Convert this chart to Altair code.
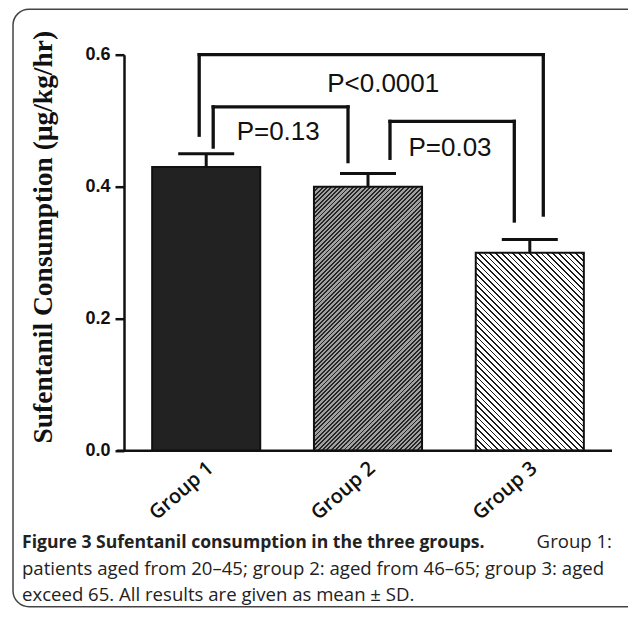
import altair as alt
import pandas as pd

# ---------------- data ----------------
groups = ["Group 1", "Group 2", "Group 3"]
means = [0.43, 0.40, 0.30]
sds = [0.02, 0.02, 0.02]

y_ticks = [0.0, 0.2, 0.4, 0.6]
y_title = "Sufentanil Consumption (μg/kg/hr)"

p_labels = ["P<0.0001", "P=0.13", "P=0.03"]
p_from = ["Group 1", "Group 1", "Group 2"]
p_to = ["Group 3", "Group 2", "Group 3"]
p_top = [0.600, 0.521, 0.499]
p_left_end = [0.478, 0.460, 0.443]
p_right_end = [0.357, 0.438, 0.348]
p_text_y = [0.544, 0.470, 0.447]

caption_bold = "Figure 3 Sufentanil consumption in the three groups."
caption_rest = "Group 1:"
caption_line2 = "patients aged from 20–45; group 2: aged from 46–65; group 3: aged"
caption_line3 = "exceed 65. All results are given as mean ± SD."

# ---------------- layout / style ----------------
W, H = 488, 396
YMAX = 0.6
PAD_IN, PAD_OUT = 0.332, 0.174
STEP = W / (len(groups) - PAD_IN + 2 * PAD_OUT)
BW = STEP * (1 - PAD_IN)
PX = H / YMAX
INK = "#111111"

left_dx = [-7, 7, 22]
right_dx = [13.5, -20, -15.5]
text_dx = [177, 72, 82]


def stripes(w, h, period, frac, dark, light, up):
    k = (w + h) / (w * w + h * h)
    if up:
        x1, y1, x2, y2 = 0, 0, w * k, h * k
    else:
        x1, y1, x2, y2 = 0, 1, w * k, 1 - h * k
    dt = period / (w + h)
    stops = []
    t = 0.0
    while t < 1.0:
        a = t
        b = min(t + frac * dt, 1.0)
        c = min(t + dt, 1.0)
        stops += [{"offset": a, "color": dark}, {"offset": b, "color": dark},
                  {"offset": b, "color": light}, {"offset": c, "color": light}]
        t += dt
    return {"gradient": "linear", "x1": x1, "y1": y1, "x2": x2, "y2": y2, "stops": stops}


bars_df = pd.DataFrame({"group": groups, "mean": means, "sd": sds})
bars_df["upper"] = bars_df["mean"] + bars_df["sd"]

br_df = pd.DataFrame({"label": p_labels, "from": p_from, "to": p_to, "top": p_top,
                      "left_end": p_left_end, "right_end": p_right_end, "text_y": p_text_y})

x_scale = alt.Scale(domain=groups, paddingInner=PAD_IN, paddingOuter=PAD_OUT)
y_scale = alt.Scale(domain=[0, YMAX], nice=False)

x_axis = alt.Axis(title=None, labelAngle=-41, labelFont="Open Sans", labelFontWeight=600,
                  labelFontSize=20, labelColor=INK, ticks=False, domain=False,
                  labelPadding=7, labelOffset=-2)
y_axis = alt.Axis(values=y_ticks, format=".1f", tickSize=9, tickWidth=2.5, domainWidth=2.5,
                  domainColor=INK, tickColor=INK, labelFont="Liberation Sans",
                  labelFontWeight="bold", labelFontSize=18, labelColor=INK, labelPadding=5,
                  grid=False, title=y_title, titleFont="Liberation Serif", titleFontWeight="bold",
                  titleFontSize=27.5, titleColor=INK, titleAngle=270, titleX=-73, titleY=182,
                  titleAlign="center", titleBaseline="alphabetic")

X = alt.X("group:N", scale=x_scale, axis=x_axis, sort=groups)
Y = alt.Y("mean:Q", scale=y_scale, axis=y_axis)

base = alt.Chart(bars_df)

one = pd.DataFrame({"k": [0]})

frame = alt.Chart(one).mark_rect(fill="transparent", stroke="#444444", strokeWidth=1.5,
                                 cornerRadius=16).encode(
    x=alt.value(-111), x2=alt.value(530), y=alt.value(-45.5), y2=alt.value(552))

fills = {
    "Group 1": "#222222",
    "Group 2": stripes(BW, means[1] * PX, 4.3, 0.45, "#262626", "#a0a0a0", True),
    "Group 3": stripes(BW, means[2] * PX, 5.7, 0.30, "#1a1a1a", "#ffffff", False),
}
bar_layers = [
    base.transform_filter(alt.datum.group == g).mark_bar(
        fill=fills[g], stroke=INK, strokeWidth=2).encode(x=X, y=Y)
    for g in groups
]

err_rule = base.mark_rule(color=INK, strokeWidth=3).encode(
    x=X, y=alt.Y("mean:Q", scale=y_scale), y2="upper:Q")
err_cap = base.mark_tick(color=INK, thickness=3, size=56, opacity=1).encode(
    x=X, y=alt.Y("upper:Q", scale=y_scale))

br_layers = []
for i, lab in enumerate(p_labels):
    b = alt.Chart(br_df).transform_filter(alt.datum.label == lab)
    xf = alt.X("from:N", scale=x_scale, sort=groups)
    xt = alt.X("to:N", scale=x_scale, sort=groups)
    ytop = alt.Y("top:Q", scale=y_scale)
    br_layers.append(b.mark_rule(color=INK, strokeWidth=3.3, strokeCap="square",
                                 xOffset=left_dx[i], x2Offset=right_dx[i]).encode(
        x=xf, x2="to:N", y=ytop))
    br_layers.append(b.mark_rule(color=INK, strokeWidth=3.3, strokeCap="square",
                                 xOffset=left_dx[i]).encode(x=xf, y=ytop, y2="left_end:Q"))
    br_layers.append(b.mark_rule(color=INK, strokeWidth=3.3, strokeCap="square",
                                 xOffset=right_dx[i]).encode(x=xt, y=ytop, y2="right_end:Q"))
    br_layers.append(b.mark_text(font="Liberation Sans", fontSize=26, color=INK,
                                 align="center", baseline="alphabetic",
                                 xOffset=text_dx[i]).encode(
        x=xf, y=alt.Y("text_y:Q", scale=y_scale), text="label:N"))

x_line = alt.Chart(one).mark_rule(color=INK, strokeWidth=2.5).encode(
    x=alt.value(-7), x2=alt.value(W), y=alt.value(H))

cap_df1 = pd.DataFrame({"t": [caption_bold]})
cap_df2 = pd.DataFrame({"t": [caption_rest]})
cap_df3 = pd.DataFrame({"t": [caption_line2]})
cap_df4 = pd.DataFrame({"t": [caption_line3]})
cap_style = dict(font="Open Sans", fontSize=18.6, color="#222222", baseline="alphabetic")
cap1 = alt.Chart(cap_df1).mark_text(fontWeight="bold", align="left",
                                    **{**cap_style, "fontSize": 17.6}).encode(
    x=alt.value(-102), y=alt.value(493.3), text="t:N")
cap2 = alt.Chart(cap_df2).mark_text(align="right", **cap_style).encode(
    x=alt.value(488), y=alt.value(493.3), text="t:N")
cap3 = alt.Chart(cap_df3).mark_text(align="left", **cap_style).encode(
    x=alt.value(-102), y=alt.value(520.3), text="t:N")
cap4 = alt.Chart(cap_df4).mark_text(align="left", **cap_style).encode(
    x=alt.value(-102), y=alt.value(546.8), text="t:N")

chart = alt.layer(frame, *bar_layers, err_rule, err_cap, *br_layers, x_line,
                  cap1, cap2, cap3, cap4).properties(
    width=W, height=H,
    autosize=alt.AutoSizeParams(type="none"),
    padding={"left": 116, "top": 46.7, "right": 16, "bottom": 159},
    background="white",
).configure_view(stroke=None)

chart.save("out.html", embed_options={"renderer": "svg", "actions": False})
